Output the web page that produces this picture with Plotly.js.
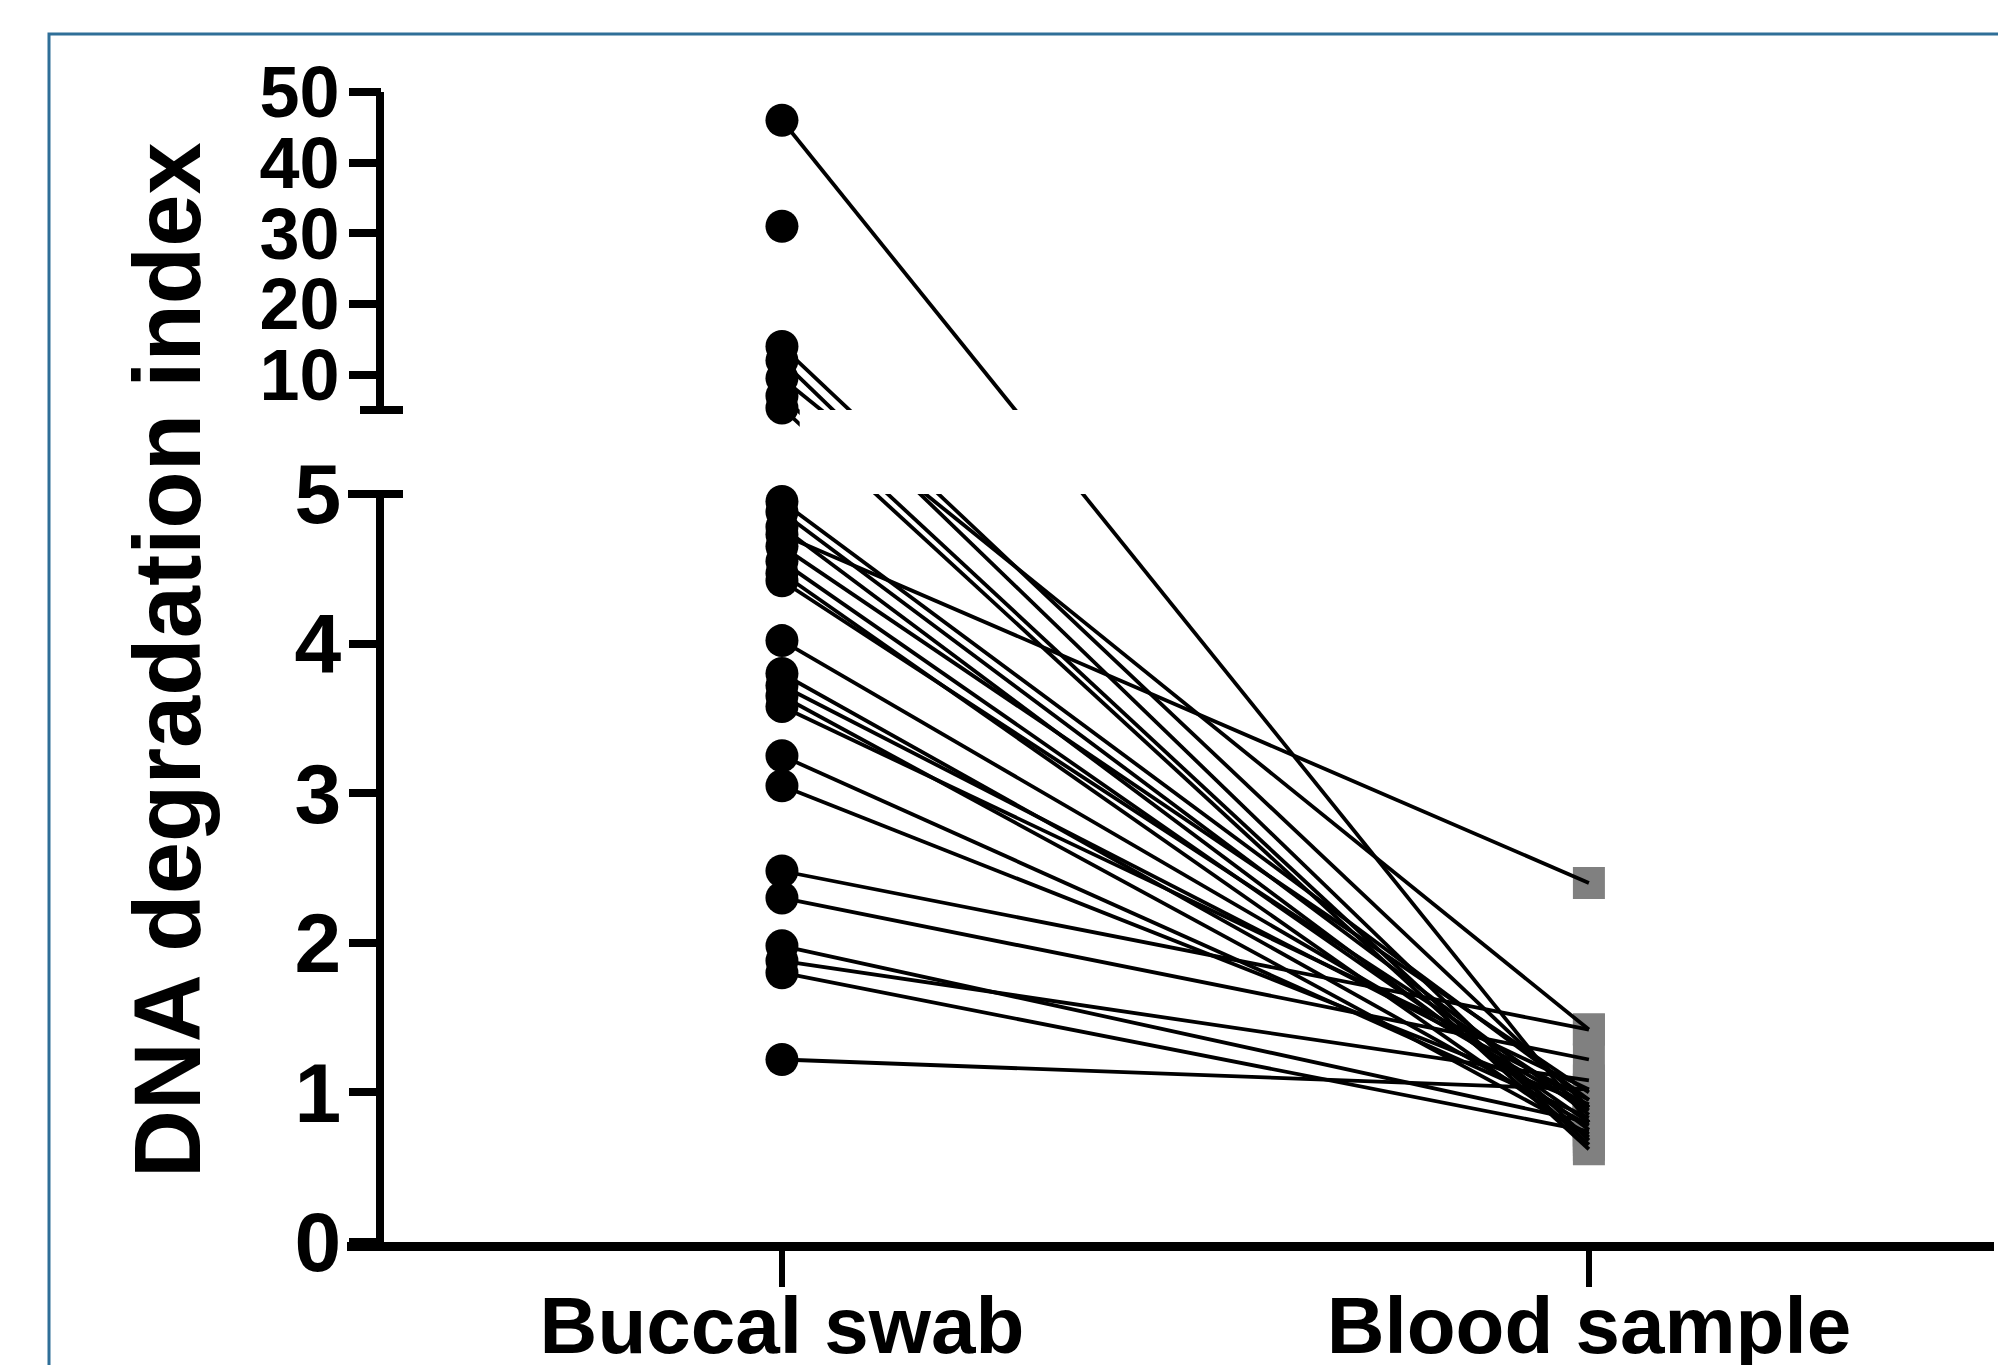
<!DOCTYPE html>
<html>
<head>
<meta charset="utf-8">
<script src="https://cdn.plot.ly/plotly-3.0.1.min.js"></script>
<style>
  html, body { margin: 0; padding: 0; background: #ffffff; }
  #chart { width: 1998px; height: 1365px; }
</style>
</head>
<body>
<div id="chart"></div>
<script>
// ---------------- data ----------------
const categories = ["Buccal swab", "Blood sample"];

// paired DNA degradation index values (same subject at same index)
const buccalSwab  = [46, 31, 14, 12, 9.5, 7, 5.3,
                     4.95, 4.88, 4.78, 4.73, 4.65, 4.55, 4.47, 4.42,
                     4.02, 3.80, 3.72, 3.65, 3.58, 3.25, 3.05,
                     2.48, 2.30, 1.98, 1.88, 1.80, 1.22];
const bloodSample = [0.80, null, 0.90, 0.68, 1.42, 0.65, 0.62,
                     0.95, 0.85, 0.75, 2.40, 1.00, 0.80, 0.70, 0.90,
                     0.88, 0.78, 0.95, 0.72, 1.02, 0.83, 0.92,
                     1.42, 1.22, 0.80, 1.08, 0.74, 1.02];

const lowerTicks = [0, 1, 2, 3, 4, 5];
const upperTicks = [10, 20, 30, 40, 50];
const yTitle = "DNA degradation index";

// ---------------- broken-axis scale ----------------
const LOWER_MAX = 5;        // lower segment 0..5
const UPPER_MIN = 5;        // upper segment 5..50
const UPPER_MAX = 50;
const GAP_TOP = 5.5615;     // where the upper segment starts (in lower-segment units)
const UPPER_SCALE = 0.04724;// lower-segment units per upper data unit
function u(v) {
  if (v === null || v === undefined) return null;
  return v <= LOWER_MAX ? v : GAP_TOP + (v - UPPER_MIN) * UPPER_SCALE;
}
const Y_TOP = u(UPPER_MAX);

// ---------------- traces ----------------
const lx = [], ly = [];
for (let i = 0; i < buccalSwab.length; i++) {
  if (bloodSample[i] === null) continue;
  lx.push(categories[0], categories[1], null);
  ly.push(u(buccalSwab[i]), u(bloodSample[i]), null);
}
const bloodIdx = bloodSample.map((v, i) => i).filter(i => bloodSample[i] !== null);

const traces = [
  {
    type: 'scatter', mode: 'markers',
    x: bloodIdx.map(() => categories[1]),
    y: bloodIdx.map(i => u(bloodSample[i])),
    marker: { symbol: 'square', size: 32, color: '#808080' },
    hoverinfo: 'skip'
  },
  {
    type: 'scatter', mode: 'lines',
    x: lx, y: ly, connectgaps: false,
    line: { color: '#000000', width: 3.8 },
    hoverinfo: 'skip'
  },
  {
    type: 'scatter', mode: 'markers',
    x: buccalSwab.map(() => categories[0]),
    y: buccalSwab.map(u),
    marker: { symbol: 'circle', size: 33, color: '#000000' },
    hoverinfo: 'skip'
  },
  // empty trace so the upper-segment tick axis (y2) is drawn
  {
    type: 'scatter', mode: 'markers', x: [categories[0]], y: [null],
    yaxis: 'y2', hoverinfo: 'skip', marker: { opacity: 0 }
  }
];

// ---------------- layout ----------------
const W = 1998, H = 1365;
const FONT = "Arial, 'Liberation Sans', Helvetica, sans-serif";
const AXIS_X = 380 / W;

const layout = {
  width: W, height: H,
  margin: { l: 0, r: 0, t: 0, b: 0 },
  paper_bgcolor: '#ffffff', plot_bgcolor: '#ffffff',
  showlegend: false, hovermode: false,
  xaxis: {
    type: 'category', categoryorder: 'array', categoryarray: categories,
    domain: [347 / W, 1994 / W],
    range: [-0.539, 1.502],
    anchor: 'y',
    showline: true, linecolor: '#000000', linewidth: 9,
    ticks: 'outside', ticklen: 36, tickwidth: 6, tickcolor: '#000000',
    ticklabelstandoff: -30,
    showgrid: false, zeroline: false,
    tickfont: { family: FONT, size: 80, color: '#000000', weight: 'bold' }
  },
  yaxis: {
    domain: [1 - 1242 / H, 1 - 92 / H],
    range: [0, Y_TOP],
    anchor: 'free', position: 381 / W, side: 'left',
    showline: false, showgrid: false, zeroline: false,
    tickmode: 'array', tickvals: lowerTicks.map(u), ticktext: lowerTicks.map(String),
    ticks: 'outside', ticklen: 32, tickwidth: 8, tickcolor: '#000000',
    ticklabelstandoff: -9,
    tickfont: { family: FONT, size: 84, color: '#000000', weight: 'bold' }
  },
  yaxis2: {
    overlaying: 'y',
    range: [0, Y_TOP],
    anchor: 'free', position: 381 / W, side: 'left',
    showline: false, showgrid: false, zeroline: false,
    tickmode: 'array', tickvals: upperTicks.map(u), ticktext: upperTicks.map(String),
    ticks: 'outside', ticklen: 32, tickwidth: 8, tickcolor: '#000000',
    ticklabelstandoff: -5,
    tickfont: { family: FONT, size: 72, color: '#000000', weight: 'bold' }
  },
  shapes: [
    // hide connecting lines inside the axis break
    { type: 'rect', xref: 'x', yref: 'y', x0: 0.022, x1: 1.6, y0: LOWER_MAX, y1: GAP_TOP,
      fillcolor: '#ffffff', line: { width: 0 }, layer: 'above' },
    // y axis lines (two segments)
    { type: 'line', xref: 'paper', yref: 'y', x0: AXIS_X, x1: AXIS_X, y0: 0, y1: LOWER_MAX,
      line: { color: '#000000', width: 8 } },
    { type: 'line', xref: 'paper', yref: 'y', x0: AXIS_X, x1: AXIS_X, y0: GAP_TOP, y1: Y_TOP + 0.03,
      line: { color: '#000000', width: 8 } },
    // break marks
    { type: 'line', xref: 'paper', yref: 'y', x0: 348 / W, x1: 403 / W, y0: LOWER_MAX, y1: LOWER_MAX,
      line: { color: '#000000', width: 8 } },
    { type: 'line', xref: 'paper', yref: 'y', x0: 360 / W, x1: 403 / W, y0: GAP_TOP, y1: GAP_TOP,
      line: { color: '#000000', width: 8 } },
    // outer blue frame
    { type: 'rect', xref: 'paper', yref: 'paper', x0: 49 / W, y0: 1 - 34 / H, x1: 1.05, y1: -0.05,
      line: { color: '#2f6f98', width: 3 }, fillcolor: 'rgba(0,0,0,0)' }
  ],
  annotations: [
    { text: yTitle, xref: 'paper', yref: 'paper', x: 167 / W, y: 1 - 660 / H,
      xanchor: 'center', yanchor: 'middle', textangle: -90, showarrow: false,
      font: { family: FONT, size: 94, color: '#000000', weight: 'bold' } }
  ]
};

Plotly.newPlot('chart', traces, layout, { staticPlot: true, displayModeBar: false });
</script>
</body>
</html>
